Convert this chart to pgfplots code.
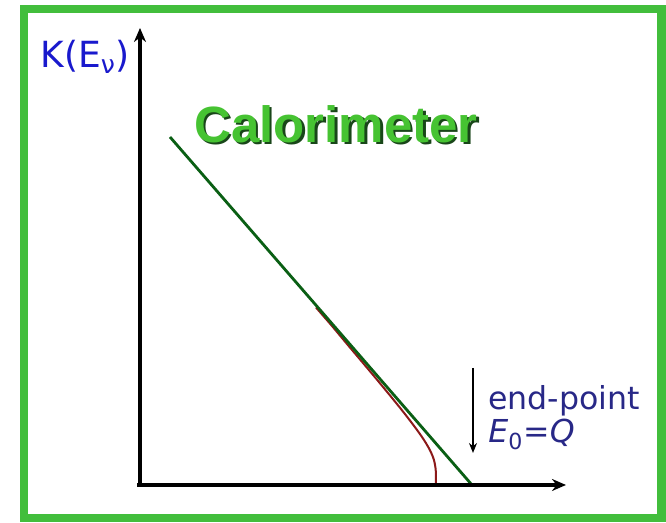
\documentclass[border=0pt]{standalone}
\usepackage{fontspec}
\setmainfont{DejaVu Sans}
\newfontfamily\calfont{Liberation Sans}
\usepackage{pgfplots}
\pgfplotsset{compat=1.18}
\usetikzlibrary{arrows.meta}
\definecolor{frameGreen}{RGB}{66,190,60}
\definecolor{lineGreen}{RGB}{10,95,20}
\definecolor{curveRed}{RGB}{140,25,25}
\definecolor{kBlue}{RGB}{25,25,205}
\definecolor{navy}{RGB}{40,40,135}
\definecolor{calGreen}{RGB}{70,195,50}
\definecolor{calShadow}{RGB}{25,70,25}
\begin{document}
\begin{tikzpicture}
\begin{axis}[
  x=0.5pt, y=0.5pt,
  xmin=-140, xmax=526, ymin=-37, ymax=485,
  hide axis, clip=false, scale only axis,
]
\fill[white] (axis cs:-140,-37) rectangle (axis cs:526,485);
\draw[frameGreen, line width=4.2pt] (axis cs:-116,-33) rectangle (axis cs:521.5,476);
% spectrum near the end-point with massive neutrino
\addplot[curveRed, line width=1pt, smooth, tension=0.5] coordinates {
(176,177.5) (192,159) (207,141) (222,123.2) (237,105.3) (252,87.1) (262,74.7)
(272,61.8) (280,50.9) (286,41.8) (290,34.7) (293,27.9) (294.5,22.8)
(295.5,17.0) (295.9,11.3) (296,0)
};
\addplot[lineGreen, line width=1.4pt] coordinates {(30,348) (332,0)};
% axes
\draw[black, line width=1.6pt, -{Stealth[length=7pt,width=6pt]}] (axis cs:0,-1.5) -- (axis cs:0,457);
\draw[black, line width=1.6pt, -{Stealth[length=7pt,width=6pt]}] (axis cs:-3,0) -- (axis cs:426,0);
% labels
\node[anchor=base west, text=kBlue, font=\fontsize{18}{20}\selectfont, inner sep=0pt] at (axis cs:-100,417) {K(E\textsubscript{ν})};
\node[text=calShadow, font=\calfont\bfseries\fontsize{25.5}{28}\selectfont] at (axis cs:198.5,358.5) {Calorimeter};
\node[text=calGreen, font=\calfont\bfseries\fontsize{25.5}{28}\selectfont] at (axis cs:196,361) {Calorimeter};
\draw[black, line width=0.7pt, -{Stealth[length=5pt,width=4pt]}] (axis cs:333,117) -- (axis cs:333,32);
\node[anchor=base west, text=navy, font=\fontsize{15.8}{18}\selectfont, inner sep=0pt] at (axis cs:348,75) {end-point};
\node[anchor=base west, text=navy, font=\fontsize{15.8}{18}\selectfont, inner sep=0pt] at (axis cs:348,42) {{\itshape E}\textsubscript{0}={\itshape Q}};
\end{axis}
\end{tikzpicture}
\end{document}
